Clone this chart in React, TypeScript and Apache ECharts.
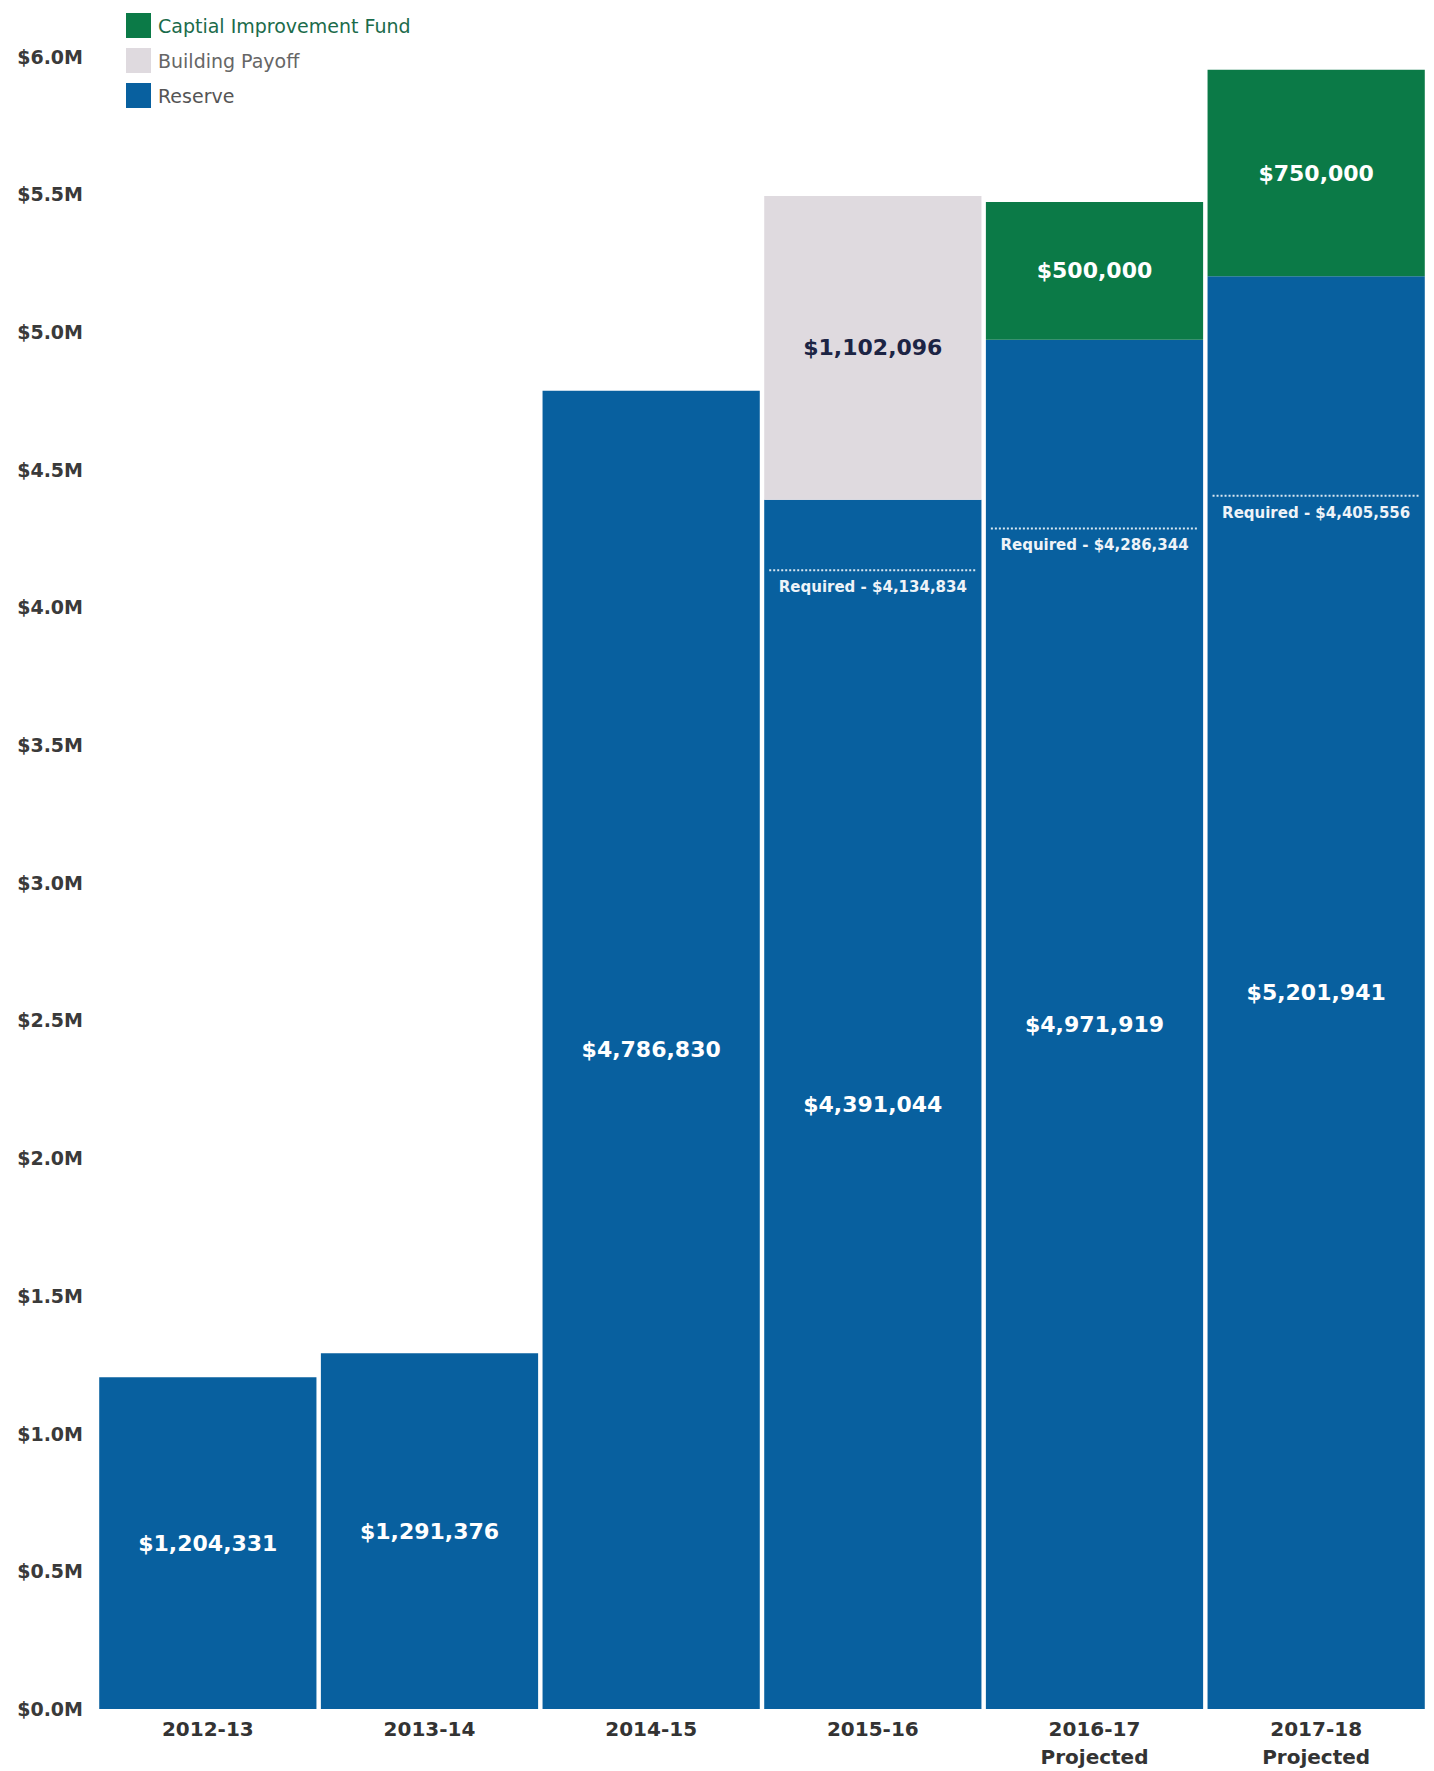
import React, { useEffect, useRef } from "react";
import * as echarts from "echarts";

const categories = ["2012-13", "2013-14", "2014-15", "2015-16", "2016-17\nProjected", "2017-18\nProjected"];
const reserve = [1204331, 1291376, 4786830, 4391044, 4971919, 5201941];
const buildingPayoff = [null, null, null, 1102096, null, null];
const capitalFund = [null, null, null, null, 500000, 750000];
const requiredIdx = [3, 4, 5];
const requiredVals = [4134834, 4286344, 4405556];
const yTicks = { min: 0, max: 6000000, interval: 500000 };

const FONT = '"DejaVu Sans", Arial, sans-serif';
const fmt = (v: number) => "$" + Math.round(v).toLocaleString("en-US");

export default function App() {
  const ref = useRef<HTMLDivElement>(null);
  useEffect(() => {
    document.body.style.margin = "0";
    const chart = echarts.init(ref.current!, null, { renderer: "svg" });
    const valueLabel = (color: string) => ({
      show: true,
      position: "inside",
      color,
      fontFamily: FONT,
      fontWeight: "bold",
      fontSize: 22,
      formatter: (p: any) => (p.value == null ? "" : fmt(p.value)),
    });
    chart.setOption({
      animation: false,
      backgroundColor: "#ffffff",
      grid: { left: 97, right: 7, top: 56.5, bottom: 61.5, containLabel: false },
      legend: {
        orient: "vertical",
        left: 121,
        top: 8,
        itemWidth: 25,
        itemHeight: 25,
        itemGap: 10,
        icon: "rect",
        selectedMode: false,
        textStyle: { fontFamily: FONT, fontSize: 19, color: "#555555", padding: [0, 0, 0, 2] },
        data: [
          { name: "Captial Improvement Fund", textStyle: { color: "#1b6b4b" } },
          { name: "Building Payoff", textStyle: { color: "#666666" } },
          { name: "Reserve", textStyle: { color: "#555555" } },
        ],
      },
      xAxis: {
        type: "category",
        data: categories,
        axisLine: { show: false },
        axisTick: { show: false },
        axisLabel: {
          color: "#333333",
          fontFamily: FONT,
          fontWeight: "bold",
          fontSize: 20,
          lineHeight: 28,
          margin: 6,
        },
      },
      yAxis: {
        type: "value",
        min: yTicks.min,
        max: yTicks.max,
        interval: yTicks.interval,
        splitLine: { show: false },
        axisLine: { show: false },
        axisTick: { show: false },
        axisLabel: {
          color: "#3a3a3a",
          fontFamily: FONT,
          fontWeight: "bold",
          fontSize: 19,
          margin: 14,
          formatter: (v: number) => "$" + (v / 1e6).toFixed(1) + "M",
        },
      },
      series: [
        {
          name: "Reserve",
          type: "bar",
          stack: "total",
          barCategoryGap: "2%",
          itemStyle: { color: "#08609f" },
          label: valueLabel("#ffffff"),
          data: reserve,
        },
        {
          name: "Building Payoff",
          type: "bar",
          stack: "total",
          barCategoryGap: "2%",
          itemStyle: { color: "#dfdadf" },
          label: valueLabel("#1c2444"),
          data: buildingPayoff,
        },
        {
          name: "Captial Improvement Fund",
          type: "bar",
          stack: "total",
          barCategoryGap: "2%",
          itemStyle: { color: "#0b7a47" },
          label: valueLabel("#ffffff"),
          data: capitalFund,
        },
        {
          name: "Required",
          type: "custom",
          z: 10,
          data: requiredIdx.map((i, k) => [i, requiredVals[k]]),
          renderItem: (params: any, api: any) => {
            const idx = api.value(0);
            const val = api.value(1);
            const p = api.coord([idx, val]);
            const w = api.size([1, 0])[0];
            const half = (w * 0.98) / 2 - 5;
            return {
              type: "group",
              children: [
                {
                  type: "line",
                  shape: { x1: p[0] - half, y1: p[1], x2: p[0] + half, y2: p[1] },
                  style: { stroke: "#ffffff", lineWidth: 2, lineDash: [2, 2], opacity: 0.85 },
                },
                {
                  type: "text",
                  style: {
                    text: "Required - " + fmt(val),
                    x: p[0],
                    y: p[1] + 17,
                    align: "center",
                    verticalAlign: "middle",
                    fill: "#eef3f8",
                    fontFamily: FONT,
                    fontWeight: "bold",
                    fontSize: 15,
                  },
                },
              ],
            };
          },
        },
      ],
    });
    return () => chart.dispose();
  }, []);
  return <div ref={ref} style={{ width: 1434, height: 1771 }} />;
}
